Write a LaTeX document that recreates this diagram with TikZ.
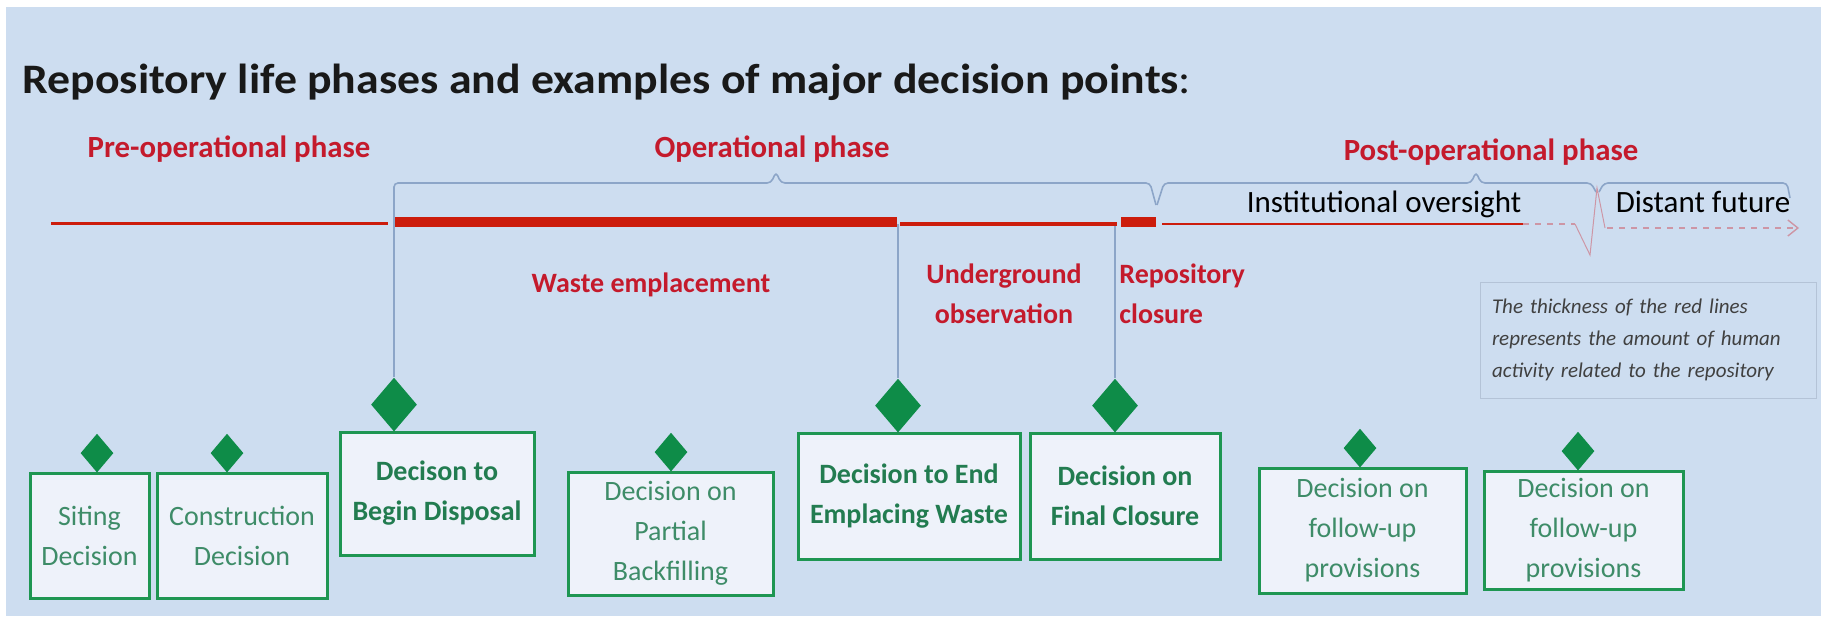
\documentclass[tikz,border=0pt]{standalone}
\usepackage{fontspec}
\setmainfont{Carlito}
\newfontfamily\titlefont{Carlito}[FakeStretch=1.09]
\usetikzlibrary{shapes.geometric,arrows.meta}

\definecolor{bgblue}{RGB}{205,221,240}
\definecolor{lnred}{RGB}{204,28,12}
\definecolor{lblred}{RGB}{196,26,44}
\definecolor{braceblue}{RGB}{140,165,200}
\definecolor{boxgreen}{RGB}{30,150,82}
\definecolor{diagreen}{RGB}{14,140,72}
\definecolor{txtgreen}{RGB}{62,140,104}
\definecolor{txtgreenb}{RGB}{34,124,80}
\definecolor{boxfill}{RGB}{238,242,250}
\definecolor{notegray}{RGB}{180,195,215}
\definecolor{futgray}{RGB}{205,150,165}

\begin{document}
\begin{tikzpicture}[x=0.5pt,y=-0.5pt,
  phaselbl/.style={text=lblred,font=\fontsize{15.4}{20}\selectfont\bfseries,inner sep=0pt},
  actlbl/.style={text=lblred,font=\fontsize{14}{20}\selectfont\bfseries,inner sep=0pt},
  brace/.style={draw=braceblue,line width=0.8pt,rounded corners=2pt},
  conn/.style={draw=braceblue,line width=0.7pt},
  decbox/.style={draw=boxgreen,line width=1.5pt,fill=boxfill,text=txtgreen,align=center,
    font=\fontsize{14}{20}\selectfont,inner sep=0pt},
  decboxb/.style={decbox,text=txtgreenb,font=\fontsize{14}{20}\selectfont\bfseries},
  bigdia/.style={diamond,fill=diagreen,inner sep=0pt,minimum width=23pt,minimum height=27pt,anchor=south},
  smalldia/.style={diamond,fill=diagreen,inner sep=0pt,minimum width=16.5pt,minimum height=19.5pt,anchor=south}]

 \useasboundingbox (0,0) rectangle (1821,616);
 \fill[white] (0,0) rectangle (1821,616);
 \fill[bgblue] (6,7) rectangle (1821,616);

 % title
 \node[anchor=base west,inner sep=0pt,text=black!90,font=\titlefont\fontsize{21}{24}\selectfont] (title) at (22,93)
   {{\bfseries Repository life phases and examples of major decision points}:};

 % phases
 \node[phaselbl,anchor=base] (lpre) at (229,157) {Pre-operational phase};
 \node[phaselbl,anchor=base] (lop) at (772,157) {Operational phase};
 \node[phaselbl,anchor=base] (lpost) at (1491,160) {Post-operational phase};

 \draw[brace] (394,205) |- (771,183) -- (776,172) -- (781,183) -- (1150,183) -- (1156,205);
 \draw[brace] (1157,205) -- (1164,183) -- (1471,183) -- (1476,172) -- (1481,183) -- (1591,183) -- (1596,192);
 \draw[brace] (1599,192) -- (1604,183) -- (1787,183) -- (1790,198);

 \node[anchor=base,inner sep=0pt,font=\fontsize{15.5}{20}\selectfont] (inst) at (1384,212) {Institutional oversight};
 \node[anchor=base,inner sep=0pt,font=\fontsize{15.5}{20}\selectfont] (dist) at (1703,212) {Distant future};

 % decision boxes
 \node[decbox,minimum width=59.5pt,minimum height=62.5pt] (siting) at (89.5,535.5) {Siting\\Decision};
 \node[decbox,minimum width=85pt,minimum height=62.5pt] (constr) at (242,535.5) {Construction\\Decision};
 \node[decboxb,minimum width=97pt,minimum height=61.5pt] (begin) at (437,493.5) {Decison to\\Begin Disposal};
 \node[decbox,minimum width=102.5pt,minimum height=61.5pt] (partial) at (670.5,533.5) {Decision on\\Partial\\Backfilling};
 \node[decboxb,minimum width=111pt,minimum height=63pt] (endemp) at (909,496) {Decision to End\\Emplacing Waste};
 \node[decboxb,minimum width=95pt,minimum height=63pt] (closure) at (1125,496) {Decision on\\Final Closure};
 \node[decbox,minimum width=103.5pt,minimum height=62.5pt] (follow1) at (1362.5,530.5) {Decision on\\follow-up\\provisions};
 \node[decbox,minimum width=99.5pt,minimum height=59pt] (follow2) at (1583.5,530) {Decision on\\follow-up\\provisions};

 % diamonds
 \node[smalldia] (dsiting) at (97,473) {};
 \node[smalldia] (dconstr) at (227,473) {};
 \node[bigdia] (dbegin) at (394,432) {};
 \node[smalldia] (dpartial) at (671,472) {};
 \node[bigdia] (dendemp) at (898,433) {};
 \node[bigdia] (dclosure) at (1115,433) {};
 \node[smalldia] (dfollow1) at (1360,468) {};
 \node[smalldia] (dfollow2) at (1578,471) {};

 % connectors
 \coordinate (tbegin) at (394,205);
 \coordinate (tendemp) at (898,224);
 \coordinate (tclosure) at (1115,224);
 \draw[conn] (tbegin) -- (dbegin.north);
 \draw[conn] (tendemp) -- (dendemp.north);
 \draw[conn] (tclosure) -- (dclosure.north);

 % timeline
 \draw[lnred,line width=1.5pt] (51,223) -- (388,223);
 \draw[lnred,line width=5pt] (395,222) -- (897,222);
 \draw[lnred,line width=2.2pt] (900,224) -- (1117,224);
 \draw[lnred,line width=5pt] (1121,222) -- (1156,222);
 \draw[lnred,line width=1pt] (1162,224) -- (1523,224);
 \draw[futgray,line width=0.7pt,dashed] (1523,224) -- (1575,224);
 \draw[futgray,line width=0.5pt] (1575,224) -- (1590,255) -- (1597,188) -- (1605,228);
 \draw[futgray,line width=0.7pt,dashed,-{Straight Barb[length=5pt,width=8pt]}] (1607,228) -- (1799,228);

 \node[actlbl,anchor=base] (lwaste) at (651,292) {Waste emplacement};
 \node[actlbl,anchor=base,align=center] (lunder) at (1004,323) {Underground\\observation};
 \node[actlbl,anchor=base west,align=left] (lclos) at (1119,323) {Repository\\closure};

 % note
 \node[draw=notegray,line width=0.4pt,align=left,text width=156pt,inner xsep=6pt,
   minimum height=58pt,text=black!75,font=\fontsize{10.5}{16}\selectfont\itshape] (note) at (1648,340)
   {The thickness of the red lines\\represents the amount of human\\activity related to the repository};
\end{tikzpicture}
\end{document}
